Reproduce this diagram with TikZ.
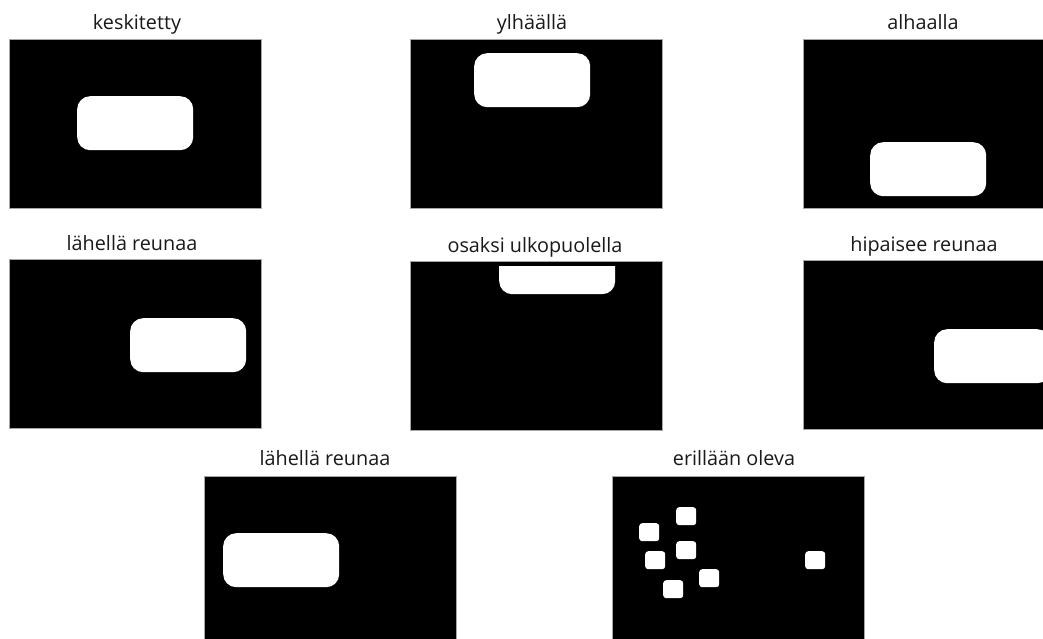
\documentclass[tikz,border=0pt]{standalone}
\usepackage{fontspec}
\setmainfont{Open Sans}
\begin{document}
\begin{tikzpicture}[x=1pt,y=-1pt,
    panel/.style={fill=black,draw=gray!70,line width=0.6pt,minimum width=252pt,
      minimum height=169pt,inner sep=0pt,outer sep=0pt,anchor=north west},
    blob/.style={fill=white,rounded corners=13pt,minimum width=116pt,
      minimum height=54pt,inner sep=0pt,anchor=north west},
    speck/.style={fill=white,rounded corners=3pt,minimum width=20pt,
      minimum height=18pt,inner sep=0pt,anchor=north west},
    caption/.style={font=\fontsize{19.8}{22}\selectfont,text=black!90,anchor=base,inner sep=0pt}]
  \useasboundingbox (0,0) rectangle (1043,639);
  \clip (0,0) rectangle (1043,639);
  % top row
  \node[panel] (p1) at (9,39) {};
  \node[panel] (p2) at (410,39) {};
  \node[panel] (p3) at (803,39) {};
  \node[caption] (l1) at (137,30) {keskitetty};
  \node[caption] (l2) at (532,30) {ylhäällä};
  \node[caption] (l3) at (923,30) {alhaalla};
  \node[blob] (b1) at (77,96) {};
  \node[blob] (b2) at (474,53) {};
  \node[blob] (b3) at (870,142) {};
  % middle row
  \node[panel] (p4) at (9,259) {};
  \node[panel] (p5) at (410,261) {};
  \node[panel] (p6) at (803,260) {};
  \node[caption] (l4) at (132,250) {lähellä reunaa};
  \node[caption] (l5) at (535,252) {osaksi ulkopuolella};
  \node[caption] (l6) at (924,251) {hipaisee reunaa};
  \node[blob] (b4) at (130,318) {};
  \begin{scope}
    \clip (499,266) rectangle (617,300);
    \node[blob] (b5) at (499,240) {};
  \end{scope}
  \node[blob] (b6) at (934,329) {};
  % bottom row
  \node[panel] (p7) at (204,476) {};
  \node[panel] (p8) at (612,476) {};
  \node[caption] (l7) at (325,465) {lähellä reunaa};
  \node[caption] (l8) at (734,465) {erillään oleva};
  \node[blob] (b7) at (223,533) {};
  \foreach \sx/\sy [count=\i] in {676/507,639/523,676/541,645/551,699/569,663/580,805/551}
    \node[speck] (s\i) at (\sx,\sy) {};
\end{tikzpicture}
\end{document}
